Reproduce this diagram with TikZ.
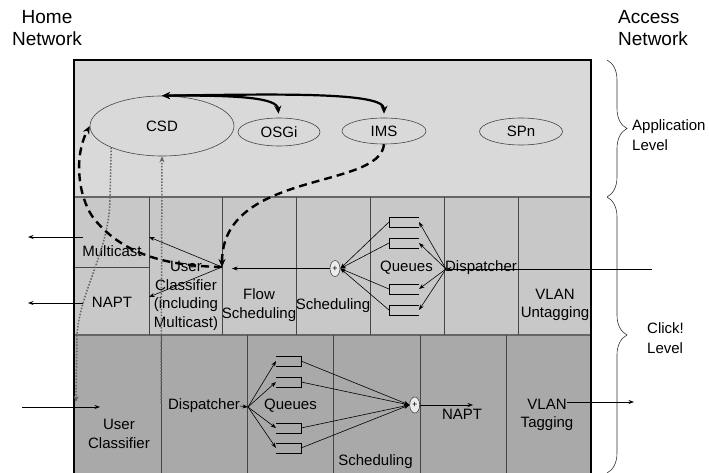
\documentclass[tikz,border=0pt]{standalone}
\usepackage{fontspec}
\setmainfont{Liberation Sans}
\usetikzlibrary{shapes.geometric,arrows.meta,decorations.pathreplacing}
\definecolor{appgray}{RGB}{217,217,217}
\definecolor{midgray}{RGB}{200,200,200}
\definecolor{lowgray}{RGB}{169,169,169}
\definecolor{linegray}{RGB}{70,70,70}
\definecolor{dotgray}{RGB}{100,100,100}
\begin{document}
\begin{tikzpicture}[x=1pt,y=-1pt,
  lbl/.style={font=\fontsize{15}{18.6}\selectfont, inner sep=0pt, align=center},
  biglbl/.style={font=\fontsize{19}{22.5}\selectfont, inner sep=0pt},
  sidelbl/.style={font=\fontsize{15}{19.5}\selectfont, inner sep=0pt, align=left, anchor=west},
  appnode/.style={ellipse, draw=linegray, line width=0.6pt, inner sep=0pt, font=\fontsize{15}{18}\selectfont},
  sumnode/.style={ellipse, draw=linegray, fill=white!85!gray, line width=0.6pt, inner sep=0pt, minimum width=10pt, minimum height=16pt, font=\fontsize{9}{9}\selectfont},
  cellline/.style={draw=linegray, line width=0.8pt},
  sepline/.style={draw=black!60, line width=1.3pt},
  queueline/.style={draw=black, line width=1pt},
  flowarrow/.style={line width=0.6pt, -{Stealth[length=5.5pt,width=4pt]}},
  busarrow/.style={line width=2.2pt, {Stealth[length=8pt,width=7pt]}-{Stealth[length=8pt,width=7pt]}},
  dasharrow/.style={line width=2.4pt, dash pattern=on 8pt off 5pt, -{Stealth[length=8pt,width=7pt]}},
  dotarrow/.style={draw=dotgray, line width=1.5pt, dash pattern=on 1.5pt off 1.6pt, -{Stealth[length=6pt,width=5pt]}},
  bracestyle/.style={draw=black!80, line width=0.6pt, decorate, decoration={brace, amplitude=20pt}}
]
\useasboundingbox (0,0) rectangle (709,473);

% bands
\fill[appgray] (74,60) rectangle (591,197);
\fill[midgray] (74,197) rectangle (591,335);
\fill[lowgray] (74,335) rectangle (591,476);
\draw[sepline] (74,197) -- (591,197);
\draw[sepline] (74,335) -- (591,335);
% middle band cells
\foreach \x in {149,222,296,370,444,518} \draw[cellline] (\x,197) -- (\x,335);
\draw[cellline] (74,267) -- (149,267);
% bottom band cells
\foreach \x in {161,247,333,420,506} \draw[cellline] (\x,335) -- (\x,476);
% outer border
\draw[line width=2.5pt] (74,476) -- (74,60) -- (591,60) -- (591,476);

% side labels
\node[biglbl, align=center] (homenet) at (47,28) {Home\\Network};
\node[biglbl, align=left, anchor=west] (accessnet) at (618,28) {Access\\Network};
\node[sidelbl] (applev) at (632,135) {Application\\Level};
\node[sidelbl] (clicklev) at (647,338) {Click!\\Level};
\draw[bracestyle] (607,60) -- (607,197);
\draw[bracestyle] (607,197) -- (607,473);

% application level
\node[appnode, minimum width=144pt, minimum height=60pt] (csd) at (162,126) {CSD};
\node[appnode, minimum width=82pt, minimum height=28pt] (osgi) at (279,132) {OSGi};
\node[appnode, minimum width=84pt, minimum height=26pt] (ims) at (384,131) {IMS};
\node[appnode, minimum width=83pt, minimum height=27pt] (spn) at (521,131.5) {SPn};

% middle band labels
\node[lbl] (mcast) at (112,251) {Multicast};
\node[lbl] (napt1) at (112,302) {NAPT};
\node[lbl] (ucl) at (186,296) {User\\Classifier\\(including\\Multicast)};
\node[lbl] (flowsch) at (259,305) {Flow\\Scheduling};
\node[lbl] (sched1) at (333,306) {Scheduling};
\node[lbl] (queues1) at (406.5,268) {Queues};
\node[lbl] (disp1) at (481,268) {Dispatcher};
\node[lbl] (vlanu) at (555,305) {VLAN\\Untagging};

% bottom band labels
\node[lbl] (ucl2) at (119,434) {User\\Classifier};
\node[lbl] (disp2) at (204,406) {Dispatcher};
\node[lbl] (queues2) at (290.5,406) {Queues};
\node[lbl] (sched2) at (375.5,462) {Scheduling};
\node[lbl] (napt2) at (462,414) {NAPT};
\node[lbl] (vlant) at (547,415) {VLAN\\Tagging};

% middle band queues (open to the right)
\foreach \y [count=\k] in {222,243,289,310} {
  \draw[queueline] (419,\y-5) -- (389,\y-5) -- (389,\y+5) -- (419,\y+5);
  \coordinate (mqr\k) at (419,\y);
  \coordinate (mql\k) at (389,\y);
}
\coordinate (mdisp) at (446,269);
\node[sumnode] (msum) at (335,268.5) {+};
\foreach \k in {1,...,4} {
  \draw[flowarrow] (mdisp) -- (mqr\k);
  \draw[flowarrow] (mql\k) -- (msum.east);
}
\coordinate (minr) at (652,269);
\draw[flowarrow] (minr) -- (mdisp);
\coordinate (flowtip) at (232,268.5);
\draw[flowarrow] (msum.west) -- (flowtip);
\coordinate (uc) at (222,267);
\coordinate (mctip) at (149,237);
\coordinate (naptip) at (149,297);
\draw[flowarrow] (uc) -- (mctip);
\draw[flowarrow] (uc) -- (naptip);
\coordinate (mcout) at (83,237);
\coordinate (mcend) at (28,237);
\coordinate (naout) at (83,303);
\coordinate (naend) at (28,303);
\draw[flowarrow] (mcout) -- (mcend);
\draw[flowarrow] (naout) -- (naend);

% bottom band queues (open to the left)
\foreach \y [count=\k] in {361,382,428,448} {
  \draw[queueline] (276,\y-5) -- (301,\y-5) -- (301,\y+5) -- (276,\y+5);
  \coordinate (bql\k) at (276,\y);
  \coordinate (bqr\k) at (301,\y);
}
\coordinate (bdisp) at (248,407);
\draw[flowarrow] (disp2.east) -- (bdisp);
\node[sumnode] (bsum) at (414.7,405) {+};
\foreach \k in {1,...,4} {
  \draw[flowarrow] (bdisp) -- (bql\k);
  \draw[flowarrow] (bqr\k) -- (bsum.west);
}
\coordinate (naptin) at (473,405);
\draw[flowarrow] (bsum.east) -- (naptin);
\coordinate (bin) at (22,407);
\coordinate (binend) at (100,407);
\draw[flowarrow] (bin) -- (binend);
\coordinate (vtout) at (567,402);
\coordinate (vtend) at (634,402);
\draw[flowarrow] (vtout) -- (vtend);

% dotted arrows
\coordinate (d1e) at (76,402);
\draw[dotarrow] (csd.203) -- (110,197) .. controls (110,250) and (80,290) .. (77,335) -- (d1e);
\coordinate (d2s) at (161,403);
\draw[dotarrow] (d2s) -- (csd.south);

% bus between CSD, OSGi, IMS
\draw[busarrow, shorten >=4pt] (csd.north) .. controls (240,95) and (277,98) .. (osgi.north);
\draw[busarrow, shorten >=4pt] (csd.north) .. controls (280,94) and (384,92) .. (ims.north);

% dashed arrows
\draw[dasharrow] (ims.south) .. controls (380,190) and (222,170) .. (uc);
\draw[dasharrow] (uc) .. controls (170,266) and (125,256) .. (95,220) .. controls (80,202) and (72,160) .. (csd.west);
\end{tikzpicture}
\end{document}
